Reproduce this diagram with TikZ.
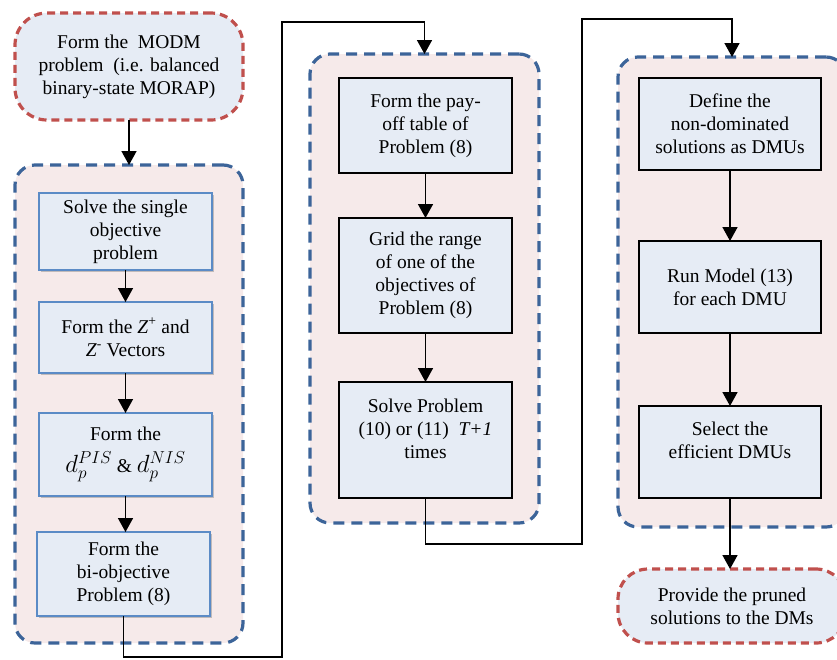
\documentclass[tikz,border=0pt]{standalone}
\usepackage{fontspec}
\setmainfont{Liberation Serif}
\usepackage{tikz}
\usetikzlibrary{arrows.meta, shadows}

\definecolor{boxfill}{HTML}{E6ECF5}
\definecolor{grpfill}{HTML}{F6EAEA}
\definecolor{grpblue}{HTML}{3C6499}
\definecolor{termred}{HTML}{C0504D}
\definecolor{boxblue}{HTML}{5B8BC6}

\begin{document}
\begin{tikzpicture}[x=1pt, y=-1pt,
  txt/.style={font=\fontsize{19.5}{23}\selectfont, align=center},
  group/.style={draw=grpblue, fill=grpfill, line width=3.2pt,
    dash pattern=on 11pt off 7pt, rounded corners=20pt, inner sep=0pt, outer sep=0pt},
  terminal/.style={txt, draw=termred, fill=boxfill, line width=3.2pt,
    dash pattern=on 8pt off 5pt, rounded corners=32pt, inner sep=0pt, outer sep=0pt},
  stepL/.style={txt, draw=boxblue, fill=boxfill, line width=1.5pt, inner sep=0pt, outer sep=0pt,
    minimum width=173pt, drop shadow={shadow xshift=2pt, shadow yshift=-2pt, fill=black!45, opacity=.5}},
  stepM/.style={txt, draw=black, fill=boxfill, line width=1.5pt, inner sep=0pt, outer sep=0pt},
  arr/.style={-{Triangle[length=14pt,width=15pt]}, line width=1.6pt}]

  \useasboundingbox (0,0) rectangle (837,659);

  % ── Start (top left) ──
  \node[terminal, minimum width=228pt, minimum height=107pt] (start) at (129,66.5)
    {Form the\ \ MODM\\problem\ \ (i.e. balanced\\binary-state MORAP)};

  % ── Group frames ──
  \node[group, minimum width=228pt, minimum height=478pt] (leftgrp) at (129,404) {};
  \node[group, minimum width=229pt, minimum height=469pt] (midgrp) at (424.5,288.5) {};
  \node[group, minimum width=228pt, minimum height=470pt] (rightgrp) at (732,292) {};

  % ── Left column ──
  \node[stepL, minimum height=77pt] (solve) at (125.5,231.5)
    {Solve the single\\objective\\problem};
  \node[stepL, minimum height=71pt] (zvec) at (125.5,337.5)
    {Form the \textit{Z}\textsuperscript{+} and\\\textit{Z}\textsuperscript{-} Vectors};
  \node[stepL, minimum height=83pt] (dist) at (125.5,454.5)
    {Form the\\[9pt]{\fontsize{24}{26}\selectfont$d_p^{PIS}$} \& {\fontsize{24}{26}\selectfont$d_p^{NIS}$}};
  \node[stepL, minimum height=84pt] (biobj) at (123.5,574)
    {Form the\\bi-objective\\Problem (8)};

  % ── Middle column ──
  \node[stepM, minimum width=173pt, minimum height=95pt] (payoff) at (425.5,125.5)
    {Form the pay-\\off table of\\Problem (8)};
  \node[stepM, minimum width=173pt, minimum height=115pt] (grid) at (425.5,275.5)
    {Grid the range\\of one of the\\objectives of\\Problem (8)};
  \node[stepM, minimum width=173pt, minimum height=116pt] (solvep) at (425.5,440)
    {Solve Problem\\(10) or (11)\ \ \textit{T+1}\\times\\\mbox{}};

  % ── Right column ──
  \node[stepM, minimum width=182pt, minimum height=92pt] (dmus) at (730,124)
    {Define the\\non-dominated\\solutions as DMUs};
  \node[stepM, minimum width=182pt, minimum height=92pt] (model) at (730,287)
    {Run Model (13)\\for each DMU};
  \node[stepM, minimum width=182pt, minimum height=92pt] (select) at (730,452)
    {Select the\\efficient DMUs\\\mbox{}};

  % ── End (bottom right) ──
  \node[terminal, rounded corners=30pt, minimum width=228pt, minimum height=74pt] (finish) at (732,606)
    {Provide the pruned\\solutions to the DMs};

  % ── Bend points of the long links ──
  \coordinate (lowA) at (282,657);
  \coordinate (topA) at (282,22);
  \coordinate (lowB) at (582,544);
  \coordinate (topB) at (582,19);

  % ── Links ──
  \draw[arr] (start.south) -- (leftgrp.north);
  \draw[arr] (solve.south) -- (zvec.north);
  \draw[arr] (zvec.south) -- (dist.north);
  \draw[arr] (dist.south) -- (dist.south |- biobj.north);
  \draw[arr] (biobj.south) |- (lowA) -- (topA) -| (midgrp.north);
  \draw[arr] (payoff.south) -- (grid.north);
  \draw[arr] (grid.south) -- (solvep.north);
  \draw[arr] (solvep.south) |- (lowB) -- (topB) -| (rightgrp.north);
  \draw[arr] (dmus.south) -- (dmus.south |- model.north);
  \draw[arr] (model.south) -- (select.north);
  \draw[arr] (select.south) -- (select.south |- finish.north);
\end{tikzpicture}
\end{document}
